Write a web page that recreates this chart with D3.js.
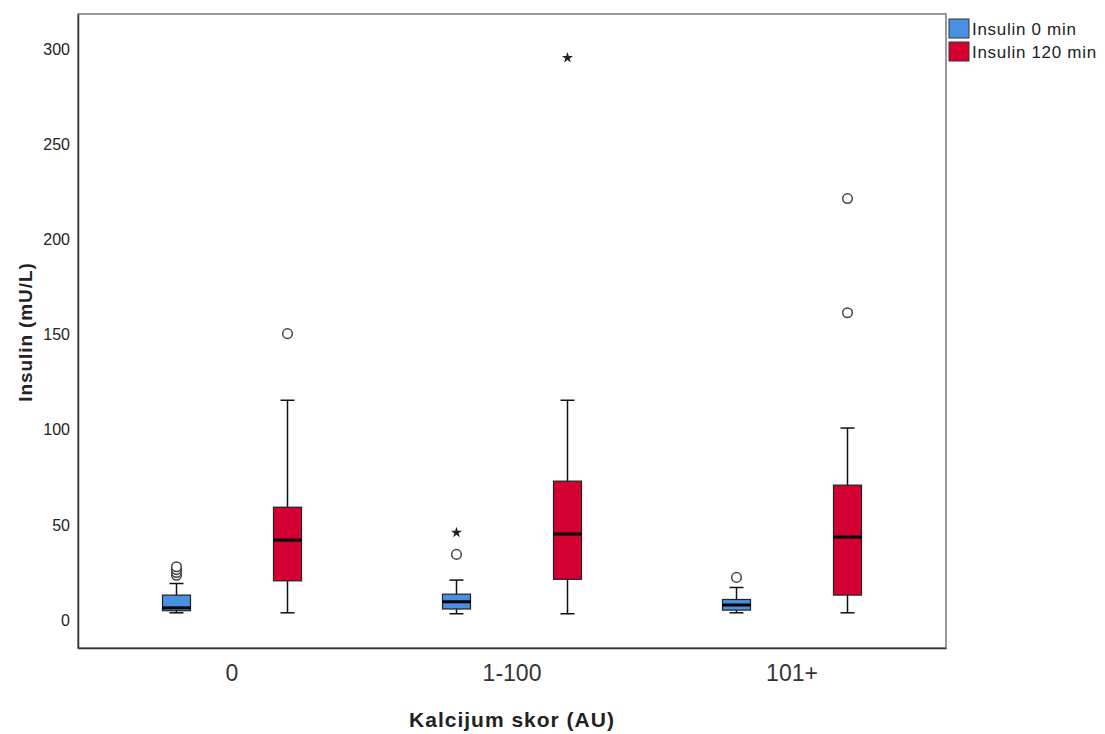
<!DOCTYPE html>
<html>
<head>
<meta charset="utf-8">
<script src="https://cdn.jsdelivr.net/npm/d3@7"></script>
<style>
  body { margin: 0; background: #fff; }
  text { font-family: "Liberation Sans", Arial, sans-serif; }
</style>
</head>
<body>
<div class="chart"></div>
<script>
const groups = ["0", "1-100", "101+"];
const series = ["Insulin 0 min", "Insulin 120 min"];
const colors = ["#4a90e2", "#d50032"];

// box stats per group, [0 min, 120 min]
const lowWhisker = [[3.3, 3.3], [2.8, 2.8], [3.3, 3.3]];
const q1 = [[4.4, 20.1], [5.3, 20.9], [4.7, 12.6]];
const median = [[5.9, 41.5], [9.1, 44.7], [7.4, 43.1]];
const q3 = [[12.6, 58.8], [13.1, 72.5], [10.3, 70.4]];
const highWhisker = [[18.7, 115], [20.5, 115], [16.6, 100.4]];

// outliers: [group, series, value, kind]
const outliers = [
  ["0", 0, 23, "o"], ["0", 0, 24.5, "o"], ["0", 0, 26, "o"], ["0", 0, 27.5, "o"],
  ["0", 1, 150, "o"],
  ["1-100", 0, 34, "o"], ["1-100", 0, 45.5, "*"],
  ["1-100", 1, 295, "*"],
  ["101+", 0, 21.9, "o"],
  ["101+", 1, 161, "o"], ["101+", 1, 221, "o"]
];
const yTicks = [0, 50, 100, 150, 200, 250, 300];

const margin = { top: 14, right: 159, bottom: 86, left: 78 };
const width = 1105 - margin.left - margin.right;
const height = 734 - margin.top - margin.bottom;

const svg = d3
  .select(".chart")
  .append("svg")
  .attr("width", 1105)
  .attr("height", 734);

const g = svg
  .append("g")
  .attr("transform", `translate(${margin.left},${margin.top})`);

const x = d3.scaleBand().domain(groups).range([0, width]).paddingOuter(0.05).paddingInner(0);
const xs = d3.scaleBand().domain([0, 1]).range([-111, 111]).padding(0);
const y = d3.scaleLinear().domain([-15.2, 318]).range([height, 0]);

// frame
g.append("rect")
  .attr("width", width)
  .attr("height", height)
  .attr("fill", "none")
  .attr("stroke", "#777")
  .attr("stroke-width", 1.5);

// y axis
const yAxis = d3.axisLeft(y).tickValues(yTicks).tickSize(0).tickPadding(8);
g.append("g")
  .call(yAxis)
  .call((a) => a.select(".domain").attr("stroke", "#333").attr("stroke-width", 1.5))
  .call((a) => a.selectAll("text").attr("font-size", "16px").attr("fill", "#222").attr("dy", "0.38em"));

// x axis
const xAxis = d3.axisBottom(x).tickSize(0).tickPadding(17);
g.append("g")
  .attr("transform", `translate(0,${height})`)
  .call(xAxis)
  .call((a) => a.select(".domain").attr("stroke", "#333").attr("stroke-width", 1.5))
  .call((a) => a.selectAll("text").attr("font-size", "23px").attr("fill", "#333"));

// axis titles
svg.append("text")
  .attr("x", margin.left + width / 2)
  .attr("y", 727)
  .attr("text-anchor", "middle")
  .attr("font-weight", "bold")
  .attr("font-size", "21px")
  .attr("letter-spacing", "1px")
  .attr("fill", "#222")
  .text("Kalcijum skor (AU)");

svg.append("text")
  .attr("transform", `translate(32,332) rotate(-90)`)
  .attr("text-anchor", "middle")
  .attr("font-weight", "bold")
  .attr("font-size", "19px")
  .attr("letter-spacing", "0.9px")
  .attr("fill", "#222")
  .text("Insulin (mU/L)");

// boxes
const boxW = 28;
const capW = 14;
groups.forEach((grp, gi) => {
  series.forEach((s, si) => {
    const cx = x(grp) + x.bandwidth() / 2 + xs(si) + xs.bandwidth() / 2;
    const bx = g.append("g");
    bx.append("line")
      .attr("x1", cx).attr("x2", cx)
      .attr("y1", y(lowWhisker[gi][si])).attr("y2", y(highWhisker[gi][si]))
      .attr("stroke", "#111").attr("stroke-width", 1.5);
    [lowWhisker[gi][si], highWhisker[gi][si]].forEach((v) => {
      bx.append("line")
        .attr("x1", cx - capW / 2).attr("x2", cx + capW / 2)
        .attr("y1", y(v)).attr("y2", y(v))
        .attr("stroke", "#111").attr("stroke-width", 1.5);
    });
    bx.append("rect")
      .attr("x", cx - boxW / 2)
      .attr("y", y(q3[gi][si]))
      .attr("width", boxW)
      .attr("height", y(q1[gi][si]) - y(q3[gi][si]))
      .attr("fill", colors[si])
      .attr("stroke", "#222")
      .attr("stroke-width", 1.2);
    bx.append("line")
      .attr("x1", cx - boxW / 2).attr("x2", cx + boxW / 2)
      .attr("y1", y(median[gi][si])).attr("y2", y(median[gi][si]))
      .attr("stroke", "#000").attr("stroke-width", 3);
  });
});

// outliers
const star = d3.symbol().type(d3.symbolStar).size(38);
outliers.forEach(([grp, si, v, kind]) => {
  const cx = x(grp) + x.bandwidth() / 2 + xs(si) + xs.bandwidth() / 2;
  if (kind === "o") {
    g.append("circle")
      .attr("cx", cx).attr("cy", y(v)).attr("r", 4.8)
      .attr("fill", "#fff").attr("stroke", "#444").attr("stroke-width", 1.5);
  } else {
    g.append("path")
      .attr("d", star)
      .attr("transform", `translate(${cx},${y(v)})`)
      .attr("fill", "#222");
  }
});

// legend
const legend = svg.append("g").attr("transform", "translate(949,19)");
series.forEach((s, i) => {
  legend.append("rect")
    .attr("x", 0).attr("y", i * 23)
    .attr("width", 20).attr("height", 19)
    .attr("fill", colors[i])
    .attr("stroke", "#333").attr("stroke-width", 1);
  legend.append("text")
    .attr("x", 23).attr("y", i * 23 + 16)
    .attr("font-size", "17px")
    .attr("letter-spacing", "0.7px")
    .attr("fill", "#222")
    .text(s);
});
</script>
</body>
</html>
